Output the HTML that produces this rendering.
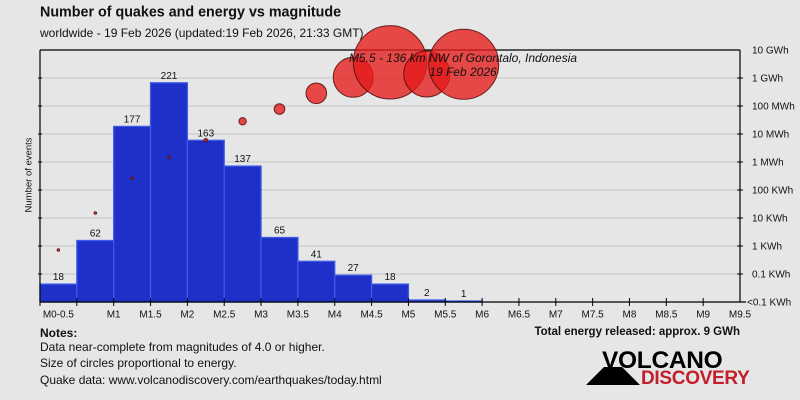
<!DOCTYPE html>
<html><head><meta charset="utf-8">
<style>
html,body{margin:0;padding:0;background:#e6e6e6;}
svg{display:block;}
text{font-family:"Liberation Sans",sans-serif;}
</style></head>
<body>
<svg width="800" height="400" viewBox="0 0 800 400" xmlns="http://www.w3.org/2000/svg">
<rect x="0" y="0" width="800" height="400" fill="#e6e6e6"/>
<text x="40" y="16.5" font-size="14.3" font-weight="bold" fill="#111">Number of quakes and energy vs magnitude</text>
<text x="40" y="37" font-size="12" fill="#111">worldwide - 19 Feb 2026 (updated:19 Feb 2026, 21:33 GMT)</text>

<!-- gridlines -->
<g stroke="#c6c6c6" stroke-width="1">
<line x1="40" y1="78" x2="740" y2="78"/>
<line x1="40" y1="106" x2="740" y2="106"/>
<line x1="40" y1="134" x2="740" y2="134"/>
<line x1="40" y1="162" x2="740" y2="162"/>
<line x1="40" y1="190" x2="740" y2="190"/>
<line x1="40" y1="218" x2="740" y2="218"/>
<line x1="40" y1="246" x2="740" y2="246"/>
<line x1="40" y1="274" x2="740" y2="274"/>
</g>

<!-- bars -->
<g fill="#1f30c8" stroke="#3b5be6" stroke-width="1.3">
<rect x="40" y="284.1" width="36.84" height="17.9"/>
<rect x="76.84" y="240.5" width="36.84" height="61.5"/>
<rect x="113.68" y="126.4" width="36.84" height="175.6"/>
<rect x="150.53" y="82.8" width="36.84" height="219.2"/>
<rect x="187.37" y="140.3" width="36.84" height="161.7"/>
<rect x="224.21" y="166.1" width="36.84" height="135.9"/>
<rect x="261.05" y="237.5" width="36.84" height="64.5"/>
<rect x="297.89" y="261.3" width="36.84" height="40.7"/>
<rect x="334.74" y="275.2" width="36.84" height="26.8"/>
<rect x="371.58" y="284.1" width="36.84" height="17.9"/>
<rect x="408.42" y="300" width="36.84" height="2"/>
<rect x="445.26" y="301" width="36.84" height="1"/>
</g>
<g font-size="10" fill="#111" text-anchor="middle">
<text x="58.4" y="280">18</text>
<text x="95.3" y="236.5">62</text>
<text x="132.1" y="122.4">177</text>
<text x="169" y="78.8">221</text>
<text x="205.8" y="136.3">163</text>
<text x="242.6" y="162.1">137</text>
<text x="279.5" y="233.5">65</text>
<text x="316.3" y="257.3">41</text>
<text x="353.2" y="271.2">27</text>
<text x="390" y="280.1">18</text>
<text x="426.8" y="296">2</text>
<text x="463.7" y="297">1</text>
</g>

<!-- axes -->
<g stroke="#000" stroke-width="1.2" fill="none">
<line x1="40" y1="50" x2="740" y2="50"/>
<line x1="40" y1="50" x2="40" y2="302"/>
<line x1="740" y1="50" x2="740" y2="302"/>
<line x1="40" y1="302" x2="746" y2="302"/>
</g>
<g stroke="#000" stroke-width="1">
<line x1="737" y1="78" x2="743" y2="78"/>
<line x1="737" y1="106" x2="743" y2="106"/>
<line x1="737" y1="134" x2="743" y2="134"/>
<line x1="737" y1="162" x2="743" y2="162"/>
<line x1="737" y1="190" x2="743" y2="190"/>
<line x1="737" y1="218" x2="743" y2="218"/>
<line x1="737" y1="246" x2="743" y2="246"/>
<line x1="737" y1="274" x2="743" y2="274"/>
<line x1="38" y1="78" x2="42" y2="78"/>
<line x1="38" y1="106" x2="42" y2="106"/>
<line x1="38" y1="134" x2="42" y2="134"/>
<line x1="38" y1="162" x2="42" y2="162"/>
<line x1="38" y1="190" x2="42" y2="190"/>
<line x1="38" y1="218" x2="42" y2="218"/>
<line x1="38" y1="246" x2="42" y2="246"/>
<line x1="38" y1="274" x2="42" y2="274"/>
<line x1="40" y1="298" x2="40" y2="306"/>
<line x1="76.84" y1="298" x2="76.84" y2="306"/>
<line x1="113.68" y1="298" x2="113.68" y2="306"/>
<line x1="150.53" y1="298" x2="150.53" y2="306"/>
<line x1="187.37" y1="298" x2="187.37" y2="306"/>
<line x1="224.21" y1="298" x2="224.21" y2="306"/>
<line x1="261.05" y1="298" x2="261.05" y2="306"/>
<line x1="297.89" y1="298" x2="297.89" y2="306"/>
<line x1="334.74" y1="298" x2="334.74" y2="306"/>
<line x1="371.58" y1="298" x2="371.58" y2="306"/>
<line x1="408.42" y1="298" x2="408.42" y2="306"/>
<line x1="445.26" y1="298" x2="445.26" y2="306"/>
<line x1="482.1" y1="298" x2="482.1" y2="306"/>
<line x1="518.95" y1="298" x2="518.95" y2="306"/>
<line x1="555.79" y1="298" x2="555.79" y2="306"/>
<line x1="592.63" y1="298" x2="592.63" y2="306"/>
<line x1="629.47" y1="298" x2="629.47" y2="306"/>
<line x1="666.32" y1="298" x2="666.32" y2="306"/>
<line x1="703.16" y1="298" x2="703.16" y2="306"/>
</g>

<!-- right labels -->
<g font-size="10" fill="#111">
<text x="752" y="53.5">10 GWh</text>
<text x="752" y="81.5">1 GWh</text>
<text x="752" y="109.5">100 MWh</text>
<text x="752" y="137.5">10 MWh</text>
<text x="752" y="165.5">1 MWh</text>
<text x="752" y="193.5">100 KWh</text>
<text x="752" y="221.5">10 KWh</text>
<text x="752" y="249.5">1 KWh</text>
<text x="752" y="277.5">0.1 KWh</text>
<text x="747" y="305.5">&lt;0.1 KWh</text>
</g>

<!-- bottom labels -->
<g font-size="10" fill="#111" text-anchor="middle">
<text x="58.4" y="317.5">M0-0.5</text>
<text x="113.68" y="317.5">M1</text>
<text x="150.53" y="317.5">M1.5</text>
<text x="187.37" y="317.5">M2</text>
<text x="224.21" y="317.5">M2.5</text>
<text x="261.05" y="317.5">M3</text>
<text x="297.89" y="317.5">M3.5</text>
<text x="334.74" y="317.5">M4</text>
<text x="371.58" y="317.5">M4.5</text>
<text x="408.42" y="317.5">M5</text>
<text x="445.26" y="317.5">M5.5</text>
<text x="482.1" y="317.5">M6</text>
<text x="518.95" y="317.5">M6.5</text>
<text x="555.79" y="317.5">M7</text>
<text x="592.63" y="317.5">M7.5</text>
<text x="629.47" y="317.5">M8</text>
<text x="666.32" y="317.5">M8.5</text>
<text x="703.16" y="317.5">M9</text>
<text x="740" y="317.5">M9.5</text>
</g>

<text transform="translate(31.5,175) rotate(-90)" font-size="9.5" fill="#111" text-anchor="middle">Number of events</text>

<!-- energy circles -->
<g fill="rgba(230,25,25,0.78)" stroke="rgba(80,10,10,0.85)" stroke-width="1">
<circle cx="58.4" cy="250" r="1.3"/>
<circle cx="95.3" cy="213" r="1.3"/>
<circle cx="132.1" cy="178.3" r="1.3"/>
<circle cx="169" cy="157.3" r="1.3"/>
<circle cx="205.8" cy="140.3" r="1.8"/>
<circle cx="242.6" cy="121.3" r="3.7"/>
<circle cx="279.5" cy="109" r="5.3"/>
<circle cx="316.3" cy="93.3" r="10.3"/>
<circle cx="353.2" cy="77.3" r="20"/>
<circle cx="390" cy="62.3" r="36.7"/>
<circle cx="426.8" cy="74" r="23"/>
<circle cx="463.7" cy="64.3" r="35"/>
</g>
<g font-size="12" font-style="italic" fill="#111" text-anchor="middle">
<text x="463" y="62">M5.5 - 136 km NW of Gorontalo, Indonesia</text>
<text x="463" y="76">19 Feb 2026</text>
</g>

<!-- notes -->
<text x="40" y="337" font-size="12" font-weight="bold" fill="#111">Notes:</text>
<g font-size="12" fill="#111">
<text x="40" y="351">Data near-complete from magnitudes of 4.0 or higher.</text>
<text x="40" y="367">Size of circles proportional to energy.</text>
<text x="40" y="384">Quake data: www.volcanodiscovery.com/earthquakes/today.html</text>
</g>
<text x="740" y="335" font-size="11.5" font-weight="bold" fill="#111" text-anchor="end">Total energy released: approx. 9 GWh</text>

<!-- logo -->
<polygon points="586,385 640,385 622,367 604,367" fill="#000"/>
<text x="602" y="368" font-size="24.5" font-weight="bold" fill="#000" letter-spacing="-0.3">VOLCANO</text>
<text x="641" y="384" font-size="19" font-weight="bold" fill="#c41e2a" letter-spacing="-0.3">DISCOVERY</text>
</svg>
</body></html>
